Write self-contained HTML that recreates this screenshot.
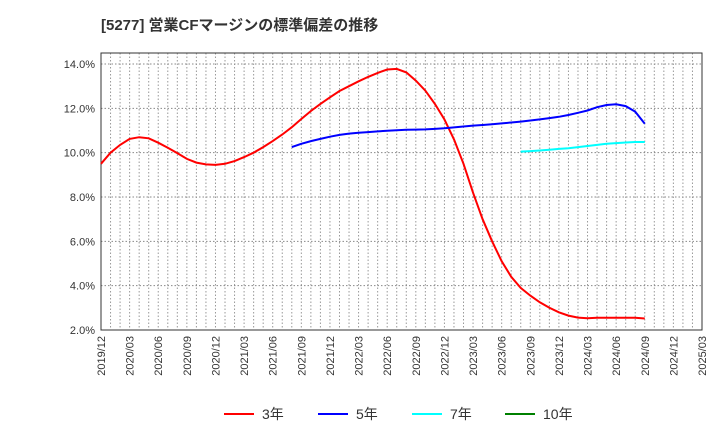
<!DOCTYPE html>
<html><head><meta charset="utf-8"><style>
body{margin:0;background:#fff;font-family:"Liberation Sans","Noto Sans CJK JP",sans-serif}
</style></head><body>
<svg id="c" width="720" height="440" xmlns="http://www.w3.org/2000/svg">
<text x="101" y="30" font-size="15" font-weight="bold" fill="#333" font-family="Liberation Sans,Noto Sans CJK JP,sans-serif">[5277]  営業CFマージンの標準偏差の推移</text>
<g id="grid"></g><g id="axes"></g><g id="series"></g><g id="legend"></g>
</svg>
<script>
const xLabels=["2019/12","2020/03","2020/06","2020/09","2020/12","2021/03","2021/06","2021/09","2021/12","2022/03","2022/06","2022/09","2022/12","2023/03","2023/06","2023/09","2023/12","2024/03","2024/06","2024/09","2024/12","2025/03"];
const yTicks=[2,4,6,8,10,12,14];
const s3Start=0;
const s3=[9.5,10.0,10.35,10.62,10.7,10.65,10.45,10.22,9.98,9.72,9.55,9.47,9.45,9.5,9.62,9.8,10.0,10.25,10.52,10.82,11.15,11.52,11.88,12.2,12.5,12.78,13.0,13.22,13.42,13.6,13.75,13.78,13.62,13.25,12.8,12.2,11.5,10.6,9.5,8.2,7.0,6.0,5.1,4.4,3.9,3.55,3.25,3.0,2.8,2.65,2.56,2.53,2.55,2.55,2.55,2.55,2.55,2.52];
const s5Start=20;
const s5=[10.25,10.4,10.52,10.62,10.72,10.8,10.86,10.9,10.93,10.96,10.99,11.01,11.03,11.04,11.05,11.07,11.1,11.14,11.18,11.22,11.25,11.28,11.32,11.36,11.4,11.45,11.5,11.56,11.62,11.7,11.8,11.9,12.05,12.15,12.18,12.1,11.85,11.3];
const s7Start=44;
const s7=[10.05,10.07,10.1,10.13,10.17,10.2,10.25,10.3,10.35,10.4,10.43,10.46,10.48,10.48];
const s10Start=0;
const s10=[];
const L=101,R=702,T=53,B=330,NM=63;
const X=i=>L+i*(R-L)/NM;
const Y=v=>B-(v-2)*(B-64)/12;
const NS="http://www.w3.org/2000/svg";
function mk(p,t,a){const e=document.createElementNS(NS,t);for(const k in a)e.setAttribute(k,a[k]);p.appendChild(e);return e;}
const g=document.getElementById('grid'),ax=document.getElementById('axes'),se=document.getElementById('series'),lg=document.getElementById('legend');
for(let i=1;i<NM;i++){const l=mk(g,'line',{x1:X(i),x2:X(i),y1:T,y2:B,stroke:'#999','stroke-dasharray':'1.5,2','stroke-width':1});

}
yTicks.forEach(v=>{const l=mk(g,'line',{x1:L,x2:R,y1:Y(v),y2:Y(v),stroke:'#888','stroke-dasharray':'1.5,2','stroke-width':1});


const t=mk(ax,'text',{x:L-6,y:Y(v)+4,'text-anchor':'end','font-size':11,fill:'#333'});t.textContent=v.toFixed(1)+'%';

});
const fr=mk(ax,'rect',{x:L,y:T,width:R-L,height:B-T,fill:'none',stroke:'#333','stroke-width':1});


xLabels.forEach((s,k)=>{const x=X(k*3);const t=mk(ax,'text',{transform:`translate(${x+4},${B+6}) rotate(-90)`,'text-anchor':'end','font-size':11,fill:'#333'});t.textContent=s;

});
function line(arr,st,col,name){if(!arr.length)return;const p=mk(se,'path',{d:arr.map((v,i)=>(i?'L':'M')+X(st+i).toFixed(1)+','+Y(v).toFixed(1)).join(''),fill:'none',stroke:col,'stroke-width':2});

}
line(s3,s3Start,'#f00','series-3yr');line(s5,s5Start,'#00f','series-5yr');line(s7,s7Start,'#0ff','series-7yr');line(s10,s10Start,'#008000','series-10yr');
[['3年','#f00',224],['5年','#00f',318],['7年','#0ff',412],['10年','#008000',505]].forEach(([n,c,x])=>{
const l=mk(lg,'line',{x1:x,x2:x+30,y1:414,y2:414,stroke:c,'stroke-width':2});


const t=mk(lg,'text',{x:x+38,y:419,'font-size':14,fill:'#333'});t.textContent=n;

});
</script>
</body></html>
